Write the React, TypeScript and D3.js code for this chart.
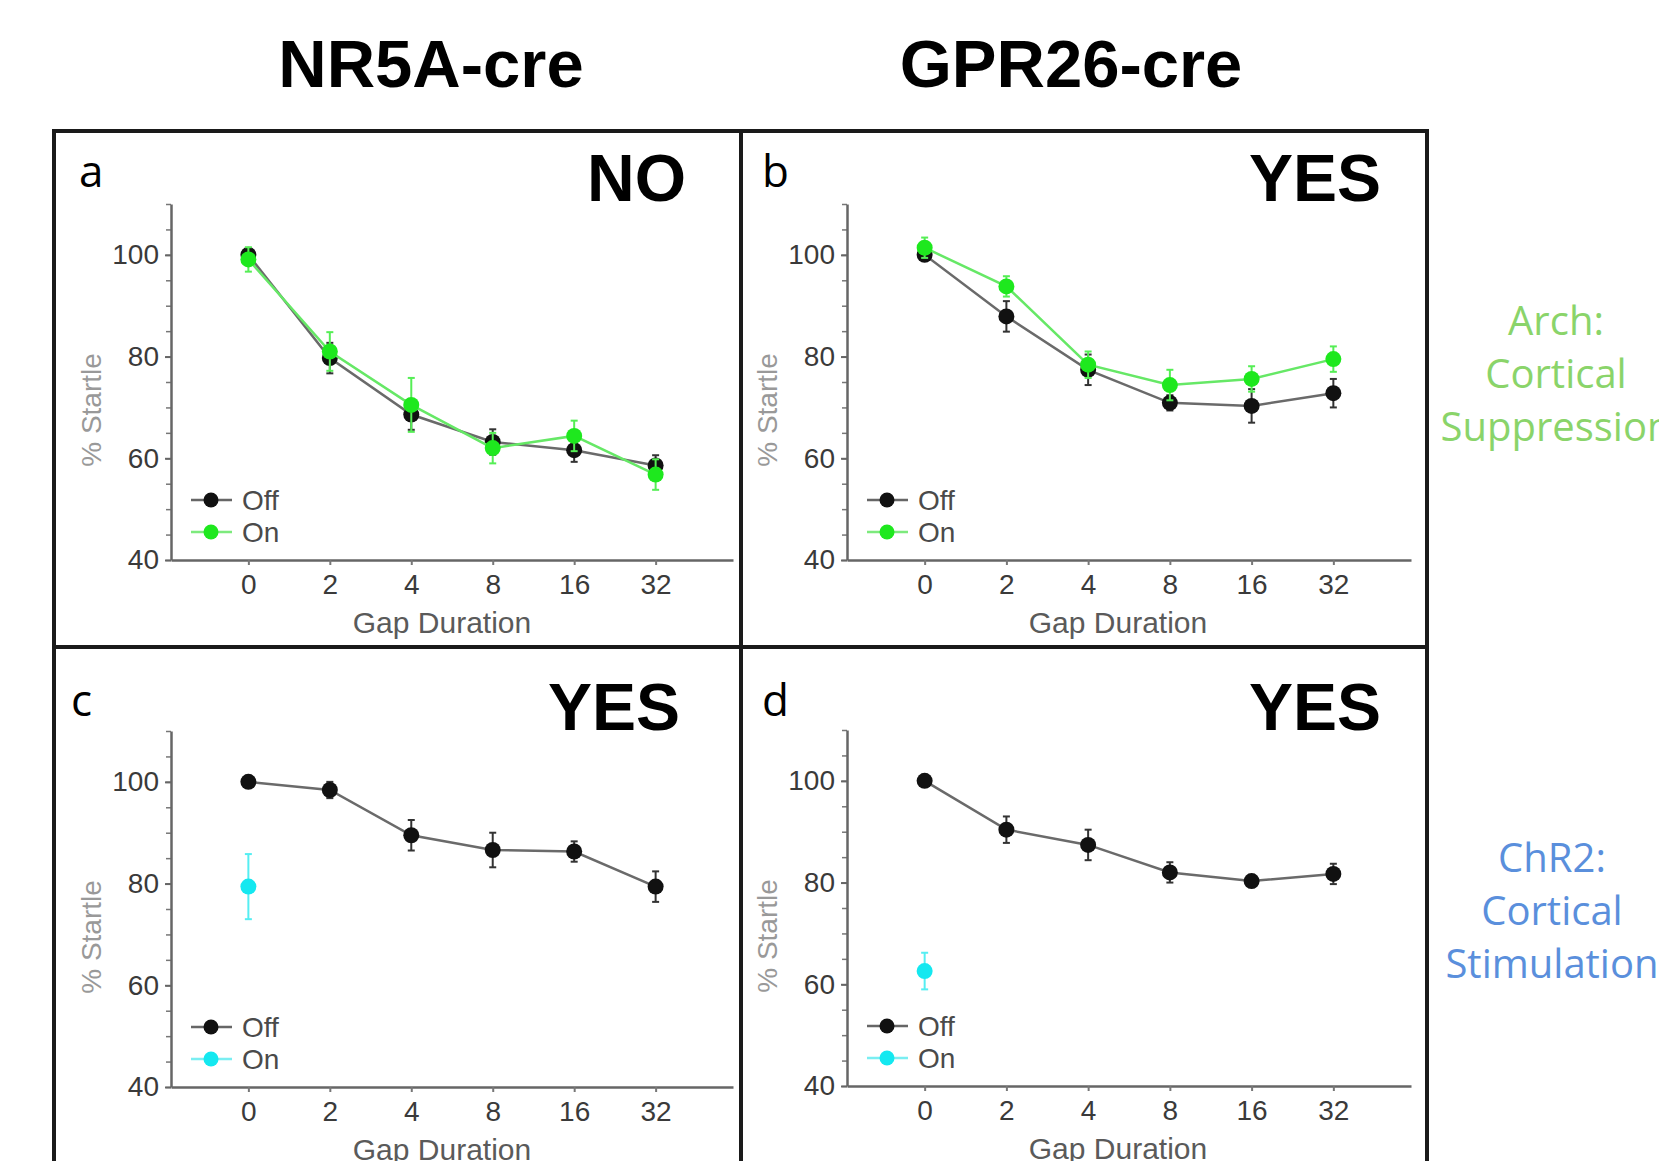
import React, { useEffect, useRef } from 'react';
import * as d3 from 'd3';

// gap durations (x categories)
const gaps = ['0', '2', '4', '8', '16', '32'];
const yMajor = [40, 60, 80, 100];

// panel a: NR5A-cre, Arch
const aOff = [100, 79.7, 68.6, 63.2, 61.6, 58.6];
const aOffErr = [1.2, 3, 3, 2.5, 2.3, 2];
const aOn = [99.1, 81.0, 70.5, 62.0, 64.4, 56.8];
const aOnErr = [2.4, 3.8, 5.3, 3, 3, 3];

// panel b: GPR26-cre, Arch
const bOff = [100, 87.9, 77.4, 70.9, 70.3, 72.8];
const bOffErr = [1, 3, 3, 1.5, 3.3, 2.8];
const bOn = [101.4, 93.8, 78.4, 74.4, 75.6, 79.5];
const bOnErr = [2, 2, 2.6, 3, 2.5, 2.5];

// panel c: NR5A-cre, ChR2
const cOff = [100, 98.4, 89.5, 86.6, 86.3, 79.4];
const cOffErr = [0.8, 1.6, 3, 3.4, 2, 3];
const cOn = [79.4];
const cOnErr = [6.4];

// panel d: GPR26-cre, ChR2
const dOff = [100, 90.4, 87.4, 82.0, 80.3, 81.7];
const dOffErr = [0.8, 2.6, 3, 2, 1.2, 2];
const dOn = [62.6];
const dOnErr = [3.6];

const GREEN = '#1ee81e';
const CYAN = '#14e8f0';

const panels = [
  { letter: 'a', verdict: 'NO', off: aOff, offErr: aOffErr, on: aOn, onErr: aOnErr, onColor: GREEN, left: 171, top: 204, right: 733, lx: 79, vx: 686, vy: 201 },
  { letter: 'b', verdict: 'YES', off: bOff, offErr: bOffErr, on: bOn, onErr: bOnErr, onColor: GREEN, left: 847, top: 204, right: 1411, lx: 762, vx: 1381, vy: 201 },
  { letter: 'c', verdict: 'YES', off: cOff, offErr: cOffErr, on: cOn, onErr: cOnErr, onColor: CYAN, left: 171, top: 731, right: 733, lx: 71, vx: 680, vy: 730 },
  { letter: 'd', verdict: 'YES', off: dOff, offErr: dOffErr, on: dOn, onErr: dOnErr, onColor: CYAN, left: 847, top: 730, right: 1411, lx: 762, vx: 1381, vy: 730 },
];

const App = () => {
  const svgRef = useRef(null);

  useEffect(() => {
    const svg = d3.select(svgRef.current);
    svg.selectAll('*').remove();

    svg.append('rect').attr('width', 1659).attr('height', 1161).attr('fill', 'white');

    // column titles
    [['NR5A-cre', 431], ['GPR26-cre', 1071]].forEach(([t, x]) => {
      svg.append('text')
        .attr('x', x).attr('y', 87)
        .attr('text-anchor', 'middle')
        .style('font-family', 'Liberation Sans, Arial, sans-serif')
        .style('font-weight', '700')
        .style('font-size', '67px')
        .attr('fill', '#000')
        .text(t);
    });

    // row labels on the right (cut at the page edge, as in the source)
    const side = [
      { lines: ['Arch:', 'Cortical', 'Suppression'], color: '#8ad46a', x: 1556, y: 335 },
      { lines: ['ChR2:', 'Cortical', 'Stimulation'], color: '#5a8fdc', x: 1552, y: 872 },
    ];
    side.forEach(s => {
      s.lines.forEach((l, i) => {
        svg.append('text')
          .attr('x', s.x).attr('y', s.y + i * 53)
          .attr('text-anchor', 'middle')
          .style('font-family', 'Open Sans, sans-serif')
          .style('font-size', '40px')
          .attr('fill', s.color)
          .text(l);
      });
    });

    panels.forEach(p => {
      const g = svg.append('g');
      const bottom = p.top + 356;

      const x = d3.scaleLinear().domain([-0.95, 5.95]).range([p.left, p.right]);
      const y = d3.scaleLinear().domain([40, 110]).range([bottom, p.top]);

      // panel letter and verdict
      g.append('text')
        .attr('x', p.lx).attr('y', p.vy - 14)
        .style('font-family', 'Open Sans, sans-serif')
        .style('font-size', '44px')
        .attr('fill', '#000')
        .text(p.letter);
      g.append('text')
        .attr('x', p.vx).attr('y', p.vy)
        .attr('text-anchor', 'end')
        .style('font-family', 'Liberation Sans, Arial, sans-serif')
        .style('font-weight', '700')
        .style('font-size', '66px')
        .attr('fill', '#000')
        .text(p.verdict);

      // minor y ticks
      const minor = g.append('g')
        .attr('transform', `translate(${p.left},0)`)
        .call(d3.axisLeft(y).tickValues(d3.range(40, 111, 5)).tickSize(5).tickSizeOuter(0).tickFormat(() => ''));
      minor.select('.domain').remove();
      minor.selectAll('.tick line').attr('stroke', '#777').attr('stroke-width', 1.5);

      // y axis
      const yAxis = g.append('g')
        .attr('transform', `translate(${p.left},0)`)
        .call(d3.axisLeft(y).tickValues(yMajor).tickSize(6).tickPadding(6).tickSizeOuter(0));
      yAxis.select('.domain').attr('stroke', '#666').attr('stroke-width', 2.5);
      yAxis.selectAll('.tick line').attr('stroke', '#666').attr('stroke-width', 2);
      yAxis.selectAll('text')
        .style('font-family', 'Liberation Sans, Arial, sans-serif')
        .style('font-size', '28px')
        .attr('fill', '#3a3a3a');

      // x axis
      const xAxis = g.append('g')
        .attr('transform', `translate(0,${bottom})`)
        .call(d3.axisBottom(x).tickValues(d3.range(gaps.length)).tickFormat(i => gaps[i]).tickSize(5).tickPadding(9).tickSizeOuter(0));
      xAxis.select('.domain').attr('stroke', '#666').attr('stroke-width', 2.5);
      xAxis.selectAll('.tick line').attr('stroke', '#777').attr('stroke-width', 2);
      xAxis.selectAll('text')
        .style('font-family', 'Liberation Sans, Arial, sans-serif')
        .style('font-size', '28px')
        .attr('fill', '#3a3a3a');

      // axis titles
      g.append('text')
        .attr('transform', `translate(${p.left - 80},${p.top + 206}) rotate(-90)`)
        .attr('text-anchor', 'middle')
        .attr('dy', '0.35em')
        .style('font-family', 'Liberation Sans, Arial, sans-serif')
        .style('font-size', '28px')
        .attr('fill', '#999')
        .text('% Startle');
      g.append('text')
        .attr('x', p.left + 271).attr('y', bottom + 73)
        .attr('text-anchor', 'middle')
        .style('font-family', 'Liberation Sans, Arial, sans-serif')
        .style('font-size', '30px')
        .attr('fill', '#5a5a5a')
        .text('Gap Duration');

      // legend
      [['Off', '#666', '#111', 296], ['On', p.onColor === GREEN ? '#7dea7d' : '#7aeef2', p.onColor, 328]].forEach(([label, lc, mc, dy]) => {
        g.append('line')
          .attr('x1', p.left + 20).attr('x2', p.left + 61)
          .attr('y1', p.top + dy).attr('y2', p.top + dy)
          .attr('stroke', lc).attr('stroke-width', 2.5);
        g.append('circle')
          .attr('cx', p.left + 40).attr('cy', p.top + dy).attr('r', 7.5)
          .attr('fill', mc);
        g.append('text')
          .attr('x', p.left + 71).attr('y', p.top + dy)
          .attr('dy', '0.36em')
          .style('font-family', 'Liberation Sans, Arial, sans-serif')
          .style('font-size', '28px')
          .attr('fill', '#4a4a4a')
          .text(label);
      });

      const line = d3.line().x((d, i) => x(i)).y(d => y(d));

      const drawSeries = (vals, errs, lineColor, markColor, errColor) => {
        if (vals.length > 1) {
          g.append('path')
            .datum(vals)
            .attr('fill', 'none')
            .attr('stroke', lineColor)
            .attr('stroke-width', 2.5)
            .attr('d', line);
        }
        vals.forEach((v, i) => {
          const cx = x(i);
          const e = errs[i];
          g.append('line')
            .attr('x1', cx).attr('x2', cx)
            .attr('y1', y(v - e)).attr('y2', y(v + e))
            .attr('stroke', errColor).attr('stroke-width', 2);
          [v - e, v + e].forEach(c => {
            g.append('line')
              .attr('x1', cx - 3.5).attr('x2', cx + 3.5)
              .attr('y1', y(c)).attr('y2', y(c))
              .attr('stroke', errColor).attr('stroke-width', 2);
          });
          g.append('circle')
            .attr('cx', cx).attr('cy', y(v)).attr('r', 8)
            .attr('fill', markColor);
        });
      };

      drawSeries(p.off, p.offErr, '#6a6a6a', '#111', '#333');
      drawSeries(p.on, p.onErr, p.onColor === GREEN ? '#66e866' : CYAN, p.onColor, p.onColor === GREEN ? '#55ee55' : '#55eef2');
    });

    // panel frames
    const frame = svg.append('g').attr('fill', 'none').attr('stroke', '#1a1a1a').attr('stroke-width', 4);
    frame.append('rect').attr('x', 54).attr('y', 131).attr('width', 1373).attr('height', 1100);
    frame.append('line').attr('x1', 741).attr('x2', 741).attr('y1', 131).attr('y2', 1161);
    frame.append('line').attr('x1', 54).attr('x2', 1427).attr('y1', 647).attr('y2', 647);
  }, []);

  return (
    <svg ref={svgRef} width={1659} height={1161} style={{ position: 'absolute', left: 0, top: 0 }}></svg>
  );
};

export default App;
